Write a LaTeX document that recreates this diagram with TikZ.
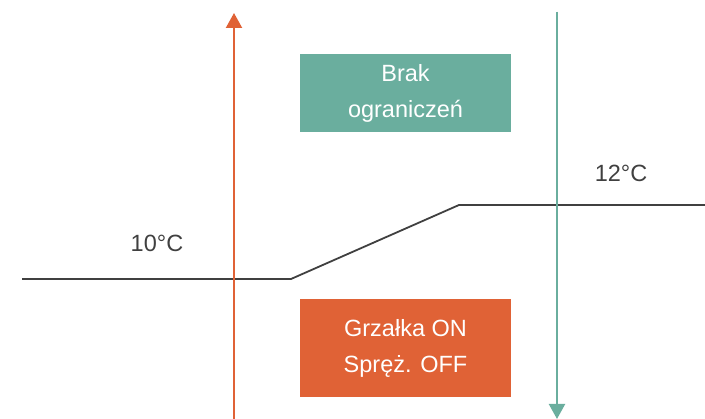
\documentclass[tikz,border=0pt]{standalone}
\usepackage{fontspec}
\setmainfont{Liberation Sans}
\usetikzlibrary{arrows.meta}
\definecolor{heatorange}{HTML}{E06236}
\definecolor{coolgreen}{HTML}{6AAE9E}
\definecolor{curvegray}{HTML}{404040}
\begin{document}
\begin{tikzpicture}[x=1pt,y=-1pt,
  statebox/.style={minimum width=211pt, minimum height=#1, inner sep=0pt,
    text=white, align=center, font=\fontsize{23.5}{36}\selectfont},
  templabel/.style={text=curvegray, font=\fontsize{23.5}{28}\selectfont},
  curve/.style={draw=curvegray, line width=1.8pt},
  tip/.style={-{Triangle[width=16pt,length=15pt]}, line width=2.2pt}]
  \useasboundingbox (0,0) rectangle (705,419);
  % hysteresis curve
  \coordinate (c0) at (22,279);
  \coordinate (c1) at (291,279);
  \coordinate (c2) at (459,205);
  \coordinate (c3) at (705,205);
  \draw[curve] (c0) -- (c1) -- (c2) -- (c3);
  % state boxes
  \node[statebox=78pt, fill=coolgreen] (free) at (405.5,93) {Brak\\ograniczeń};
  \node[statebox=98pt, fill=heatorange] (heat) at (405.5,348) {Grzałka ON\\Spręż. OFF};
  % temperature labels
  \node[templabel] (t10) at (157,243) {10°C};
  \node[templabel] (t12) at (621,173) {12°C};
  % direction arrows
  \coordinate (rb) at (234,419);
  \coordinate (rt) at (234,13);
  \coordinate (gt) at (557,12);
  \coordinate (gb) at (557,419);
  \draw[tip, draw=heatorange, fill=heatorange] (rb) -- (rt);
  \draw[tip, draw=coolgreen, fill=coolgreen] (gt) -- (gb);
\end{tikzpicture}
\end{document}
